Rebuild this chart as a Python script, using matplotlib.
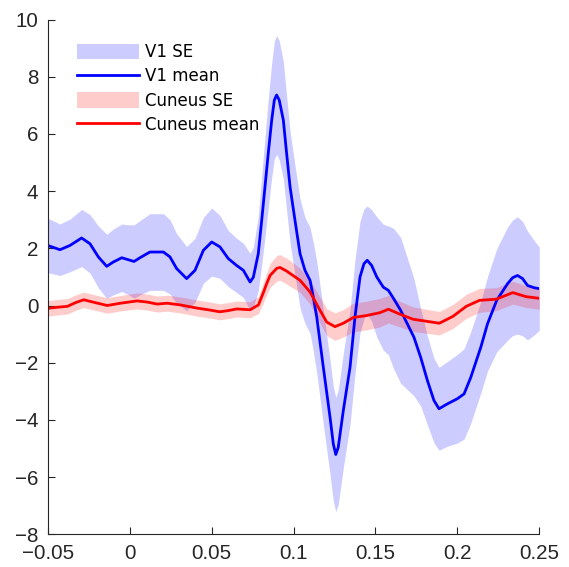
import numpy as np
import matplotlib
matplotlib.use("Agg")
import matplotlib.pyplot as plt

# ---- data ----
v1_t = [-0.0500, -0.0425, -0.0364, -0.0293, -0.0242, -0.0191, -0.0140, -0.0100, -0.0048, -0.0008,
        0.0027, 0.0063, 0.0124, 0.0206, 0.0246, 0.0287, 0.0348, 0.0399, 0.0450, 0.0501,
        0.0551, 0.0602, 0.0653, 0.0694, 0.0735, 0.0755, 0.0785, 0.0806, 0.0826, 0.0846,
        0.0867, 0.0883, 0.0897, 0.0913, 0.0938, 0.0958, 0.0979, 0.1009, 0.1040, 0.1070,
        0.1101, 0.1121, 0.1142, 0.1182, 0.1223, 0.1243, 0.1258, 0.1273, 0.1304, 0.1345,
        0.1375, 0.1406, 0.1430, 0.1450, 0.1477, 0.1508, 0.1548, 0.1579, 0.1610, 0.1654,
        0.1735, 0.1776, 0.1817, 0.1857, 0.1888, 0.1939, 0.2000, 0.2041, 0.2082, 0.2143,
        0.2184, 0.2240, 0.2306, 0.2337, 0.2367, 0.2398, 0.2428, 0.2469, 0.2500]
v1_mean = [2.10, 1.95, 2.10, 2.36, 2.16, 1.70, 1.37, 1.52, 1.67, 1.60,
           1.54, 1.67, 1.87, 1.87, 1.70, 1.29, 0.94, 1.23, 1.93, 2.22,
           2.05, 1.64, 1.40, 1.23, 0.82, 0.99, 1.81, 2.98, 4.15, 5.32,
           6.48, 7.18, 7.36, 7.18, 6.48, 5.32, 4.15, 2.98, 1.81, 1.23,
           0.88, 0.29, -0.41, -2.16, -3.91, -4.84, -5.21, -4.96, -3.67, -2.16,
           -0.41, 1.00, 1.46, 1.58, 1.40, 1.00, 0.64, 0.53, 0.25, -0.17,
           -1.11, -1.81, -2.62, -3.32, -3.61, -3.44, -3.26, -3.09, -2.51, -1.46,
           -0.64, 0.18, 0.76, 0.97, 1.05, 0.94, 0.70, 0.62, 0.59]
v1_se = [0.95, 0.90, 0.92, 1.00, 1.02, 1.08, 1.12, 1.15, 1.18, 1.22,
         1.28, 1.30, 1.34, 1.34, 1.30, 1.22, 1.12, 1.12, 1.15, 1.19,
         1.10, 0.98, 0.95, 0.95, 1.00, 1.05, 1.30, 1.55, 1.75, 1.90,
         2.00, 2.05, 2.08, 2.08, 2.05, 2.00, 1.95, 1.92, 1.90, 1.85,
         1.85, 1.90, 1.95, 2.00, 2.00, 2.00, 2.00, 2.00, 2.00, 2.00,
         2.00, 1.95, 1.92, 1.90, 1.95, 2.10, 2.20, 2.25, 2.45, 2.55,
         2.05, 1.70, 1.55, 1.48, 1.45, 1.48, 1.55, 1.58, 1.60, 1.60,
         1.65, 1.80, 1.98, 2.02, 2.05, 2.00, 1.90, 1.65, 1.45]

cu_t = [-0.0500, -0.0440, -0.0380, -0.0330, -0.0280, -0.0210, -0.0137, -0.0056, 0.0046, 0.0107,
        0.0168, 0.0230, 0.0310, 0.0410, 0.0480, 0.0550, 0.0600, 0.0654, 0.0735, 0.0786,
        0.0816, 0.0836, 0.0857, 0.0898, 0.0918, 0.0959, 0.0979, 0.1040, 0.1100, 0.1162,
        0.1203, 0.1253, 0.1304, 0.1365, 0.1447, 0.1528, 0.1579, 0.1648, 0.1729, 0.1810,
        0.1890, 0.1973, 0.2054, 0.2135, 0.2237, 0.2338, 0.2419, 0.2500]
cu_mean = [-0.10, -0.06, -0.03, 0.10, 0.20, 0.10, 0.00, 0.08, 0.16, 0.12,
           0.05, 0.08, 0.02, -0.09, -0.15, -0.22, -0.18, -0.12, -0.15, 0.02,
           0.45, 0.76, 1.05, 1.30, 1.33, 1.20, 1.12, 0.88, 0.48, -0.17,
           -0.58, -0.74, -0.62, -0.42, -0.35, -0.25, -0.13, -0.30, -0.48, -0.55,
           -0.62, -0.38, -0.03, 0.18, 0.22, 0.45, 0.31, 0.25]
cu_se = [0.27, 0.27, 0.27, 0.27, 0.27, 0.27, 0.27, 0.27, 0.28, 0.28,
         0.28, 0.28, 0.28, 0.28, 0.28, 0.28, 0.28, 0.28, 0.28, 0.30,
         0.35, 0.38, 0.42, 0.45, 0.45, 0.45, 0.45, 0.42, 0.42, 0.45,
         0.47, 0.48, 0.48, 0.50, 0.50, 0.50, 0.48, 0.45, 0.43, 0.42,
         0.41, 0.42, 0.42, 0.42, 0.40, 0.40, 0.38, 0.38]

x_ticks = [-0.05, 0, 0.05, 0.1, 0.15, 0.2, 0.25]
x_ticklabels = ["\u22120.05", "0", "0.05", "0.1", "0.15", "0.2", "0.25"]
y_ticks = [-8, -6, -4, -2, 0, 2, 4, 6, 8, 10]
y_ticklabels = ["\u22128", "\u22126", "\u22124", "\u22122", "0", "2", "4", "6", "8", "10"]
labels = ["V1 SE", "V1 mean", "Cuneus SE", "Cuneus mean"]
title_text = "LFP Across Patients"

plt.rcParams['font.family'] = ['Liberation Sans', 'DejaVu Sans']

fig = plt.figure(figsize=(5.69, 5.67), dpi=100)
ax = fig.add_axes([47.7/569, 1 - 534.3/567, 491.6/569, 514.8/567])

v1_t_a = np.array(v1_t); v1_m = np.array(v1_mean); v1_s = np.array(v1_se)
cu_t_a = np.array(cu_t); cu_m = np.array(cu_mean); cu_s = np.array(cu_se)

h1 = ax.fill_between(v1_t_a, v1_m - v1_s, v1_m + v1_s, color='blue', alpha=0.2, linewidth=0)
h2, = ax.plot(v1_t_a, v1_m, color='blue', lw=2.0, solid_joinstyle='round')
h3 = ax.fill_between(cu_t_a, cu_m - cu_s, cu_m + cu_s, color='red', alpha=0.2, linewidth=0)
h4, = ax.plot(cu_t_a, cu_m, color='red', lw=2.0, solid_joinstyle='round')

ax.set_xlim(-0.05, 0.25)
ax.set_ylim(-8, 10)
ax.set_xticks(x_ticks)
ax.set_xticklabels(x_ticklabels)
ax.set_yticks(y_ticks)
ax.set_yticklabels(y_ticklabels)
ax.spines['top'].set_visible(False)
ax.spines['right'].set_visible(False)
for s in ['left', 'bottom']:
    ax.spines[s].set_color('#262626')
    ax.spines[s].set_linewidth(0.8)
ax.tick_params(direction='in', length=5, width=0.8, colors='#262626',
               labelsize=14.8, labelcolor='#262626', pad=6.7)

fig.legend([h1, h2, h3, h4], labels, loc='upper left',
           bbox_to_anchor=(77/569, 1 - 43/567), bbox_transform=fig.transFigure,
           frameon=False, prop={'family': 'DejaVu Sans', 'size': 12},
           handlelength=3.7, handleheight=1.02,
           handletextpad=0.36, labelspacing=0.38, borderpad=0, borderaxespad=0)

fig.text(297/569, 1 + 0.5/567, title_text, ha='center', va='baseline',
         fontsize=15, fontweight='bold', color='#262626')

fig.savefig("out.png", dpi=100)
